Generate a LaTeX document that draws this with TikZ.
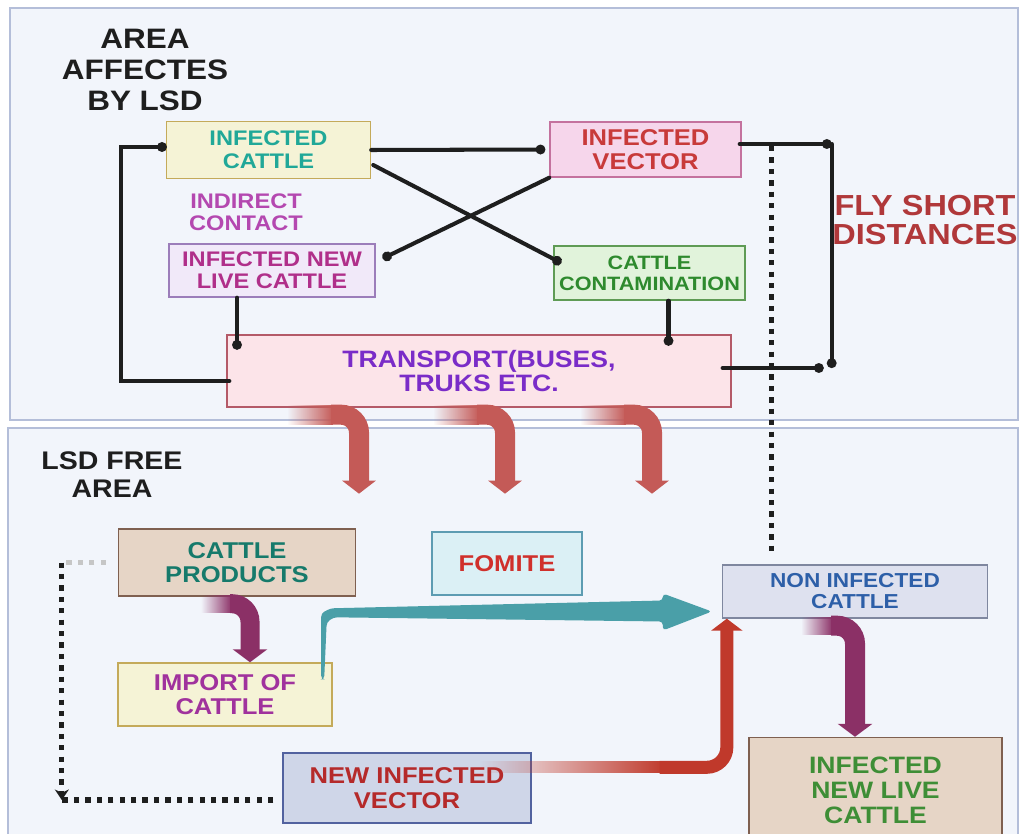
\documentclass[tikz,border=0pt]{standalone}
\usepackage{fontspec}
\setmainfont{Liberation Sans}[FakeStretch=1.12]
\usepackage{xcolor}
\usetikzlibrary{arrows.meta,positioning,calc,fadings}

\definecolor{panelbg}{HTML}{F2F5FB}
\definecolor{panelln}{HTML}{B4BED9}
\definecolor{linkc}{HTML}{1E1E1E}
\definecolor{trarr}{HTML}{C45A57}
\definecolor{purarr}{HTML}{8B3066}
\definecolor{tealarr}{HTML}{4A9FA8}
\definecolor{redarr}{HTML}{C0392B}
\definecolor{yelfill}{HTML}{F5F3D6}
\definecolor{yelline}{HTML}{C4AA5A}
\definecolor{pinkfill}{HTML}{F6D6EB}
\definecolor{pinkline}{HTML}{C4729E}
\definecolor{lilfill}{HTML}{F1E9F9}
\definecolor{lilline}{HTML}{9C7DBA}
\definecolor{grnfill}{HTML}{E1F3DB}
\definecolor{grnline}{HTML}{5F9B55}
\definecolor{rosefill}{HTML}{FCE4E9}
\definecolor{roseline}{HTML}{B45A68}
\definecolor{tanfill}{HTML}{E6D5C6}
\definecolor{tanline}{HTML}{7F6050}
\definecolor{cyanfill}{HTML}{DBF0F5}
\definecolor{cyanline}{HTML}{5D9CB2}
\definecolor{bluefill}{HTML}{DEE1EF}
\definecolor{blueline}{HTML}{7F879F}
\definecolor{navfill}{HTML}{CFD6E8}
\definecolor{navline}{HTML}{52629F}
\definecolor{tteal}{HTML}{20A898}
\definecolor{tmagenta}{HTML}{B02F8A}
\definecolor{tviolet}{HTML}{B448B0}
\definecolor{tred}{HTML}{C83A3A}
\definecolor{tgreen}{HTML}{2E8A2E}
\definecolor{tpurple}{HTML}{7A2CC8}
\definecolor{tfly}{HTML}{B0383A}
\definecolor{tdteal}{HTML}{167A6B}
\definecolor{tfomite}{HTML}{D0302B}
\definecolor{tblue}{HTML}{2D5FA8}
\definecolor{timport}{HTML}{A0329D}
\definecolor{tvector}{HTML}{B52A2A}
\definecolor{tlgreen}{HTML}{3E8E36}
\tikzfading[name=fadein, left color=transparent!100, right color=transparent!0]
\newcommand\fsz[2]{\fontsize{#1}{#2}\selectfont\bfseries}

\begin{document}
\begin{tikzpicture}[
  x=0.02cm, y=-0.02cm,
  box/.style={draw, line width=0.8pt, inner sep=0pt, align=center, font=\fsz{13}{14}},
  yelbox/.style={box, fill=yelfill, draw=yelline},
  pinkbox/.style={box, fill=pinkfill, draw=pinkline, text=tred},
  lilbox/.style={box, fill=lilfill, draw=lilline, text=tmagenta},
  grnbox/.style={box, fill=grnfill, draw=grnline, text=tgreen},
  rosebox/.style={box, fill=rosefill, draw=roseline, text=tpurple},
  tanbox/.style={box, fill=tanfill, draw=tanline},
  cyanbox/.style={box, fill=cyanfill, draw=cyanline, text=tfomite},
  bluebox/.style={box, fill=bluefill, draw=blueline, text=tblue},
  navbox/.style={box, fill=navfill, draw=navline, text=tvector},
  lnk/.style={line width=2.3pt, draw=linkc, line cap=round},
  dotl/.style={line width=3pt, draw=linkc, dash pattern=on 3pt off 3.5pt},
  fat/.style={line width=#1, rounded corners=0.36cm},
]
\useasboundingbox[fill=white] (0,0) rectangle (1021,834);
% the two areas
\filldraw[fill=panelbg, draw=panelln, line width=1pt] (10,8) rectangle (1018,420);
\filldraw[fill=panelbg, draw=panelln, line width=1pt] (8,428) rectangle (1018,842);

\node[font=\fsz{16}{17.6}, align=center, text=linkc] (title) at (145,70) {AREA\\AFFECTES\\BY LSD};
\node[font=\fsz{14.5}{16}, align=center, text=linkc] (free) at (112,475) {LSD FREE\\AREA};

% affected area
\node[yelbox, text=tteal, minimum width=4.08cm, minimum height=1.14cm, font=\fsz{12}{13}] (ic) at (268.5,150) {INFECTED\\CATTLE};
\node[font=\fsz{12}{12.5}, align=center, text=tviolet] (indc) at (246,212) {INDIRECT\\CONTACT};
\node[lilbox, minimum width=4.12cm, minimum height=1.06cm, font=\fsz{12}{12.5}] (inlc) at (272,270.5) {INFECTED NEW\\LIVE CATTLE};
\node[pinkbox, minimum width=3.82cm, minimum height=1.10cm] (iv) at (645.5,149.5) {INFECTED\\VECTOR};
\node[grnbox, minimum width=3.82cm, minimum height=1.08cm, font=\fsz{11}{12}] (cc) at (649.5,273) {CATTLE\\CONTAMINATION};
\node[rosebox, minimum width=10.08cm, minimum height=1.44cm, font=\fsz{13.5}{14.2}] (tr) at (479,371) {TRANSPORT(BUSES,\\TRUKS ETC.};
\node[font=\fsz{16.5}{17}, align=center, text=tfly] (fly) at (925,220) {FLY SHORT\\DISTANCES};

% free area
\node[tanbox, text=tdteal, minimum width=4.74cm, minimum height=1.34cm] (cp) at (237,562.5) {CATTLE\\PRODUCTS};
\node[cyanbox, minimum width=3.0cm, minimum height=1.26cm] (fo) at (507,563.5) {FOMITE};
\node[bluebox, minimum width=5.3cm, minimum height=1.06cm, font=\fsz{11.5}{12}] (nic) at (855,591.5) {NON INFECTED\\CATTLE};
\node[yelbox, text=timport, minimum width=4.28cm, minimum height=1.26cm] (imp) at (225,694.5) {IMPORT OF\\CATTLE};
\node[navbox, minimum width=4.96cm, minimum height=1.40cm, font=\fsz{13}{14.2}] (niv) at (407,788) {NEW INFECTED\\VECTOR};
\node[tanbox, text=tlgreen, minimum width=5.06cm, minimum height=2.1cm, font=\fsz{13.5}{14.2}] (inlc2) at (875.5,790) {INFECTED\\NEW LIVE\\CATTLE};

% black links
\draw[lnk, {Circle[length=5.5pt]}-] ($(ic.west)+(1,-3)$) -- ++(-46,0) |- ($(tr.west)+(3,10)$);
\draw[lnk, -{Circle[length=5.5pt]}] (ic.east) -- ($(iv.west)+(-4,0)$);
\draw[lnk, -{Circle[length=5.5pt]}] ($(ic.east)+(2,15)$) -- ($(cc.west)+(8,-10)$);
\draw[lnk, {Circle[length=5.5pt]}-] ($(inlc.east)+(7,-12)$) -- (iv.south west);
\draw[lnk, -{Circle[length=5.5pt]}] ($(inlc.south)+(-35,0)$) -- ++(0,52);
\draw[lnk, -{Circle[length=5.5pt]}] ($(cc.south)+(19,0)$) -- ++(0,45);
\draw[lnk, -{Circle[length=5.5pt]}] ($(iv.east)+(-2,-5.5)$) -- ++(92,0) coordinate (fa);
\draw[lnk, -{Circle[length=5.5pt]}] (fa) -- ++(0,224) coordinate (fb);
\draw[lnk, -{Circle[length=5.5pt]}] ($(tr.east)+(-9,-3)$) -- ($(fb)+(-8,0)$);
\draw[dotl, shorten >=0.16cm] ($(fa)+(-60,2)$) coordinate (fc) -- (fc |- nic.north);

% dotted loop in the free area
\draw[dotl, draw=gray!45] ($(cp.west)+(-12,0)$) -- ++(-44,0) coordinate (la);
\draw[dotl, -{Stealth[length=6pt,width=8pt]}] (la) -- ($(la |- niv.west)+(0,12)$) coordinate (lb);
\draw[dotl] ($(niv.west)+(-9,12)$) -- (lb);

% transport arrows
\foreach \dx in {-120,26,173}{
  \fill[trarr, path fading=fadein] ($(tr.south)+(\dx-72,-3)$) rectangle ($(tr.south)+(\dx-26,17)$);
  \draw[fat=0.4cm, trarr, -{Triangle[width=0.66cm,length=0.26cm]}] ($(tr.south)+(\dx-28,7)$) -- ($(tr.south)+(\dx,7)$) -- ($(tr.south)+(\dx,86)$);
}

% cattle products to import
\coordinate (pa) at ($(cp.south)+(13,0)$);
\fill[purarr, path fading=fadein] ($(cp.south)+(-36,-2)$) rectangle ($(cp.south)+(-5,16)$);
\draw[fat=0.38cm, purarr, -{Triangle[width=0.68cm,length=0.26cm]}] ($(cp.south)+(-7,7)$) -- ($(pa)+(0,7)$) -- (pa |- imp.north);

% import to non infected cattle
\coordinate (ts) at ($(imp.north east)+(-10,17)$);
\coordinate (tt) at ($(nic.west)+(-10,20)$);
\fill[tealarr, rounded corners=2pt] ($(ts)+(-1.5,0)$) -- ($(ts)+(-1.5,-66)$) -- ($(ts)+(8,-71)$)
  -- ($(tt)+(-49,-11)$) -- ($(tt)+(-49,-18)$) -- (tt) -- ($(tt)+(-49,19)$) -- ($(tt)+(-49,10)$)
  -- ($(ts)+(11,-62)$) -- ($(ts)+(4,-57)$) -- ($(ts)+(1.5,0)$) -- cycle;

% new infected vector to non infected cattle
\coordinate (ra) at ($(nic.south west)+(5,0)$);
\coordinate (rb) at ($(niv.north east)+(0,15)$);
\fill[redarr, path fading=fadein] ($(rb)+(-52,-6)$) rectangle ($(rb)+(134,6)$);
\draw[fat=0.26cm, redarr, rounded corners=0.4cm, -{Triangle[width=0.62cm,length=0.24cm]}] ($(rb)+(128,0)$) -- (ra |- rb) -- (ra);

% non infected to infected new live cattle
\fill[purarr, path fading=fadein] ($(nic.south)+(-54,-2)$) rectangle ($(nic.south)+(-22,16)$);
\draw[fat=0.4cm, purarr, -{Triangle[width=0.68cm,length=0.26cm]}] ($(nic.south)+(-24,7)$) -- ($(nic.south)+(0,7)$) -- (nic.south |- inlc2.north);
\end{tikzpicture}
\end{document}
